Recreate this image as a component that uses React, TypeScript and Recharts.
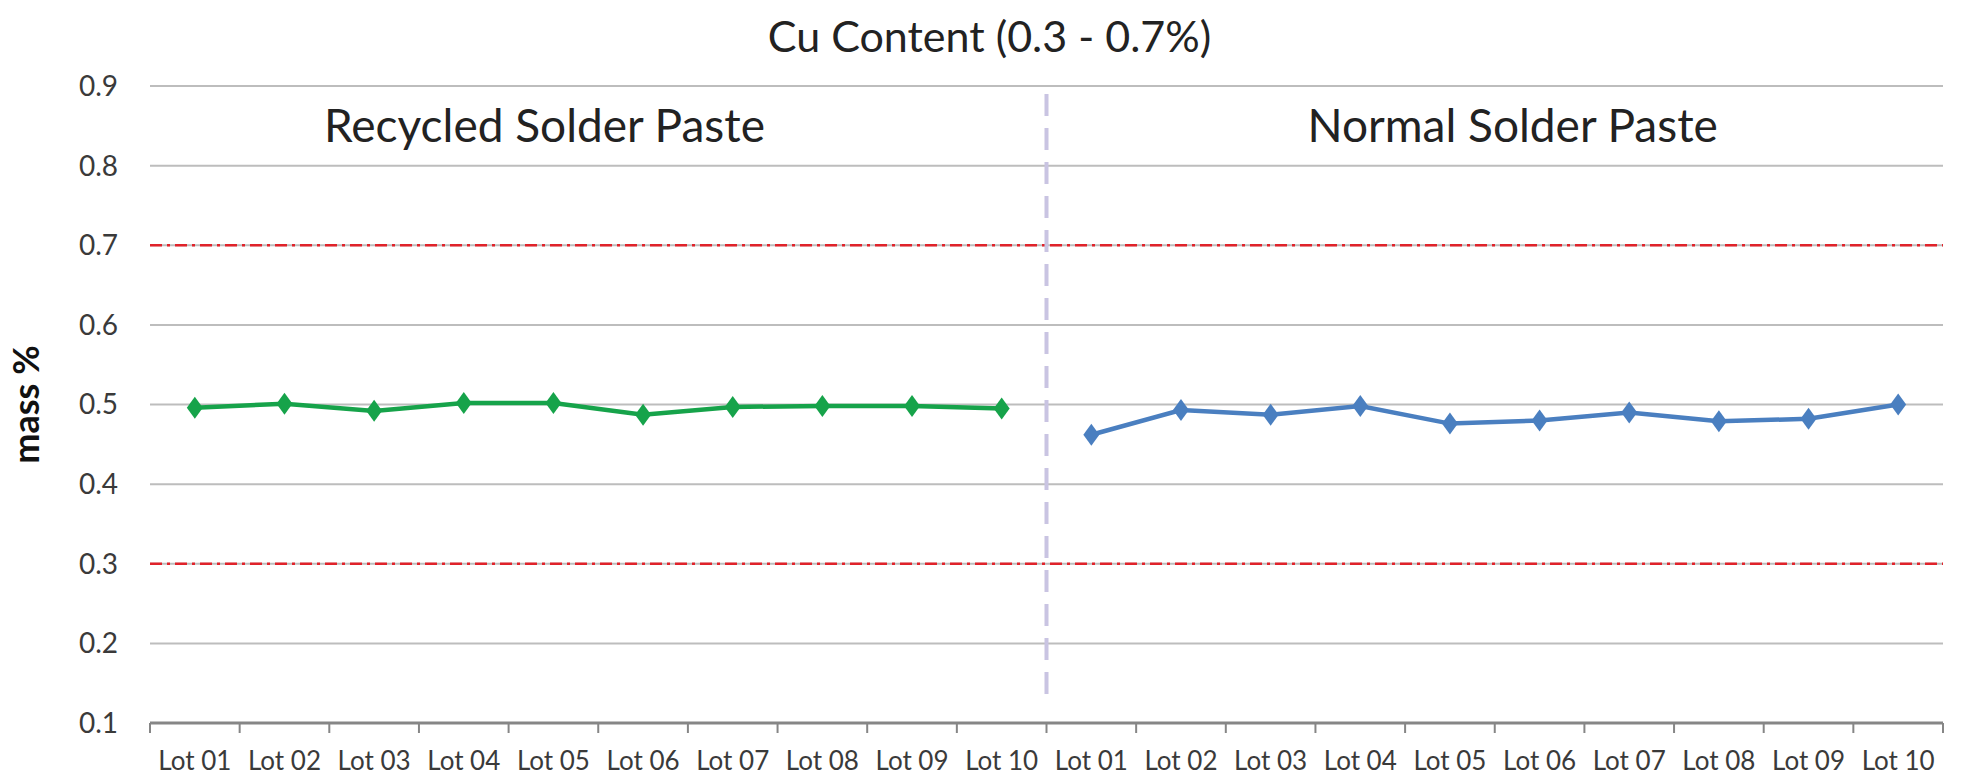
import {
  LineChart,
  Line,
  XAxis,
  YAxis,
  CartesianGrid,
  ReferenceLine,
  ReferenceArea,
} from 'recharts';

const LOTS = ['Lot 01', 'Lot 02', 'Lot 03', 'Lot 04', 'Lot 05', 'Lot 06', 'Lot 07', 'Lot 08', 'Lot 09', 'Lot 10'];
const RECYCLED = [0.496, 0.501, 0.492, 0.502, 0.502, 0.487, 0.497, 0.498, 0.498, 0.495];
const NORMAL = [0.462, 0.493, 0.487, 0.498, 0.476, 0.48, 0.49, 0.479, 0.482, 0.5];
const Y_TICKS = [0.1, 0.2, 0.3, 0.4, 0.5, 0.6, 0.7, 0.8, 0.9];
const LIMITS = [0.3, 0.7];

const X_LABELS = [...LOTS, ...LOTS];

const chartData = X_LABELS.map((label, i) => ({
  x: i + 0.5,
  label,
  recycled: i < 10 ? RECYCLED[i] : null,
  normal: i >= 10 ? NORMAL[i - 10] : null,
}));

const W = 1979;
const H = 777;
const MARGIN = { top: 86, right: 36, left: 0, bottom: 0 };
const Y_AXIS_W = 150;
const PLOT_W = W - MARGIN.left - MARGIN.right - Y_AXIS_W;
const STEP = PLOT_W / 20;
const FONT = 'Lato, "Open Sans", sans-serif';

function LotTick(props: any) {
  const { x, y, payload } = props;
  const i = payload.value as number;
  return (
    <g>
      <line x1={x} y1={y} x2={x} y2={y + 10} stroke="#868686" strokeWidth={2} />
      {i < 20 && (
        <text
          x={x + STEP / 2}
          y={y + 47}
          textAnchor="middle"
          fontSize={26}
          fontFamily={FONT}
          fill="#3a3a3a"
        >
          {X_LABELS[i]}
        </text>
      )}
    </g>
  );
}

function diamond(color: string) {
  return (props: any) => {
    const { cx, cy, index } = props;
    if (cx == null || cy == null) return <g key={index} />;
    const r = 9;
    return (
      <path
        key={index}
        d={`M${cx},${cy - r - 2}L${cx + r - 1},${cy}L${cx},${cy + r + 2}L${cx - r + 1},${cy}Z`}
        fill={color}
      />
    );
  };
}

export default function App() {
  return (
    <div style={{ position: 'absolute', left: 0, top: 0, width: W, height: H, background: '#fff' }}>
      <div
        style={{
          position: 'absolute',
          top: 10,
          left: 0,
          width: W,
          textAlign: 'center',
          fontFamily: FONT,
          fontSize: 43,
          lineHeight: '52px',
          color: '#222',
        }}
      >
        Cu Content (0.3 - 0.7%)
      </div>
      <LineChart width={W} height={H} data={chartData} margin={MARGIN}>
        <CartesianGrid vertical={false} stroke="#bdbdbd" strokeWidth={2} />
        <XAxis
          dataKey="x"
          type="number"
          domain={[0, 20]}
          ticks={Array.from({ length: 21 }, (_, i) => i)}
          interval={0}
          axisLine={{ stroke: '#868686', strokeWidth: 3 }}
          tickLine={false}
          tickSize={0}
          tickMargin={0}
          height={777 - 723}
          tick={<LotTick />}
        />
        <YAxis
          type="number"
          domain={[0.1, 0.9]}
          ticks={Y_TICKS}
          interval={0}
          width={Y_AXIS_W}
          axisLine={false}
          tickLine={false}
          tickMargin={26}
          tickFormatter={(v: number) => v.toFixed(1)}
          tick={{ fontSize: 28, fontFamily: FONT, fill: '#3a3a3a' }}
          label={{
            value: 'mass %',
            angle: -90,
            position: 'insideLeft',
            offset: 26,
            style: { fontSize: 36, fontWeight: 700, fontFamily: FONT, fill: '#111', textAnchor: 'middle' },
          }}
        />
        {LIMITS.map((v) => (
          <ReferenceLine
            key={v}
            y={v}
            stroke="#e0222a"
            strokeWidth={2.5}
            strokeDasharray="12 5 3 5"
          />
        ))}
        <ReferenceLine
          segment={[
            { x: 10, y: 0.89 },
            { x: 10, y: 0.135 },
          ]}
          stroke="#c9c4e2"
          strokeWidth={4}
          strokeDasharray="22 12"
        />
        <ReferenceArea
          x1={0}
          x2={8.8}
          y1={0.8}
          y2={0.9}
          fillOpacity={0}
          strokeOpacity={0}
          label={{ value: 'Recycled Solder Paste', position: 'center', fontSize: 46, fontFamily: FONT, fill: '#222' }}
        />
        <ReferenceArea
          x1={10.4}
          x2={20}
          y1={0.8}
          y2={0.9}
          fillOpacity={0}
          strokeOpacity={0}
          label={{ value: 'Normal Solder Paste', position: 'center', fontSize: 46, fontFamily: FONT, fill: '#222' }}
        />
        <Line
          dataKey="recycled"
          stroke="#16a34a"
          strokeWidth={4.5}
          dot={diamond('#16a34a')}
          activeDot={false}
          connectNulls={false}
          isAnimationActive={false}
        />
        <Line
          dataKey="normal"
          stroke="#4a7fc0"
          strokeWidth={4.5}
          dot={diamond('#4a7fc0')}
          activeDot={false}
          connectNulls={false}
          isAnimationActive={false}
        />
      </LineChart>
    </div>
  );
}
